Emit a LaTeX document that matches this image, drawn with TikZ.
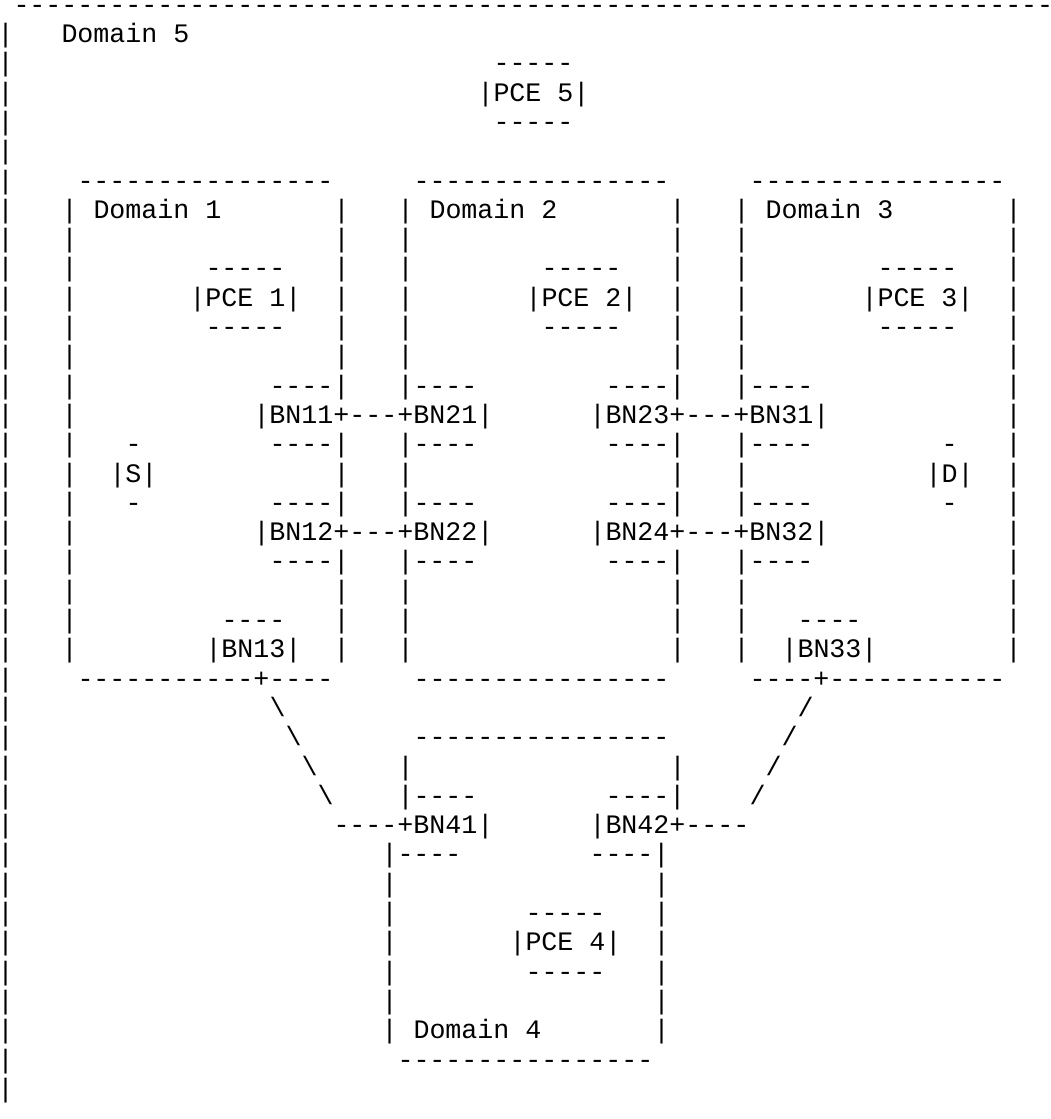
\documentclass[tikz,border=0pt]{standalone}
\usepackage{fontspec}
\setmonofont{Liberation Mono}
\tikzset{asc/.style={inner sep=0pt, outer sep=0pt, anchor=base west,
  font=\ttfamily\fontsize{26.66pt}{29.3pt}\selectfont}}
\newcommand\asc[3]{\node[asc] (r#1c#2) at ({16*#2-2.5}, {-(13.2+29.3*#1)}) {#3};}
\newcommand\bars[1]{\asc{#1}{4}{|}\asc{#1}{21}{|}\asc{#1}{25}{|}\asc{#1}{42}{|}\asc{#1}{46}{|}\asc{#1}{63}{|}}
\begin{document}
\begin{tikzpicture}[x=1pt,y=1pt]
\useasboundingbox (0,0) rectangle (1051,-1119);
% outer frame
\node[asc, text height=12pt, text depth=0pt] (r0c1) at (13.5, -13.2) {\makebox[1037pt][l]{-----------------------------------------------------------------}};
\foreach \r in {1,...,37} {\node[asc] (b\r) at (1, {-(13.2+29.3*\r)}) {\makebox[9pt]{|}};}
\asc{1}{4}{Domain 5}
\asc{2}{31}{-----}
\asc{3}{30}{|PCE 5|}
\asc{4}{31}{-----}
% domains 1-3
\asc{6}{5}{----------------}\asc{6}{26}{----------------}\asc{6}{47}{----------------}
\bars{7}\asc{7}{6}{Domain 1}\asc{7}{27}{Domain 2}\asc{7}{48}{Domain 3}
\bars{8}
\bars{9}\asc{9}{13}{-----}\asc{9}{34}{-----}\asc{9}{55}{-----}
\bars{10}\asc{10}{12}{|PCE 1|}\asc{10}{33}{|PCE 2|}\asc{10}{54}{|PCE 3|}
\bars{11}\asc{11}{13}{-----}\asc{11}{34}{-----}\asc{11}{55}{-----}
\bars{12}
\asc{13}{4}{|}\asc{13}{17}{----|}\asc{13}{25}{|----}\asc{13}{38}{----|}\asc{13}{46}{|----}\asc{13}{63}{|}
\asc{14}{4}{|}\asc{14}{16}{|BN11+---+BN21|}\asc{14}{37}{|BN23+---+BN31|}\asc{14}{63}{|}
\asc{15}{4}{|}\asc{15}{8}{-}\asc{15}{17}{----|}\asc{15}{25}{|----}\asc{15}{38}{----|}\asc{15}{46}{|----}\asc{15}{59}{-}\asc{15}{63}{|}
\bars{16}\asc{16}{7}{|S|}\asc{16}{58}{|D|}
\asc{17}{4}{|}\asc{17}{8}{-}\asc{17}{17}{----|}\asc{17}{25}{|----}\asc{17}{38}{----|}\asc{17}{46}{|----}\asc{17}{59}{-}\asc{17}{63}{|}
\asc{18}{4}{|}\asc{18}{16}{|BN12+---+BN22|}\asc{18}{37}{|BN24+---+BN32|}\asc{18}{63}{|}
\asc{19}{4}{|}\asc{19}{17}{----|}\asc{19}{25}{|----}\asc{19}{38}{----|}\asc{19}{46}{|----}\asc{19}{63}{|}
\bars{20}
\bars{21}\asc{21}{14}{----}\asc{21}{50}{----}
\bars{22}\asc{22}{13}{|BN13|}\asc{22}{49}{|BN33|}
\asc{23}{5}{-----------+----}\asc{23}{26}{----------------}\asc{23}{47}{----+-----------}
% links to domain 4
\asc{24}{17}{\textbackslash}\asc{24}{50}{/}
\asc{25}{18}{\textbackslash}\asc{25}{26}{----------------}\asc{25}{49}{/}
\asc{26}{19}{\textbackslash}\asc{26}{25}{|}\asc{26}{42}{|}\asc{26}{48}{/}
\asc{27}{20}{\textbackslash}\asc{27}{25}{|----}\asc{27}{38}{----|}\asc{27}{47}{/}
\asc{28}{21}{----+BN41|}\asc{28}{37}{|BN42+----}
\asc{29}{24}{|----}\asc{29}{37}{----|}
\asc{30}{24}{|}\asc{30}{41}{|}
\asc{31}{24}{|}\asc{31}{33}{-----}\asc{31}{41}{|}
\asc{32}{24}{|}\asc{32}{32}{|PCE 4|}\asc{32}{41}{|}
\asc{33}{24}{|}\asc{33}{33}{-----}\asc{33}{41}{|}
\asc{34}{24}{|}\asc{34}{41}{|}
\asc{35}{24}{|}\asc{35}{26}{Domain 4}\asc{35}{41}{|}
\asc{36}{25}{----------------}
\end{tikzpicture}
\end{document}
